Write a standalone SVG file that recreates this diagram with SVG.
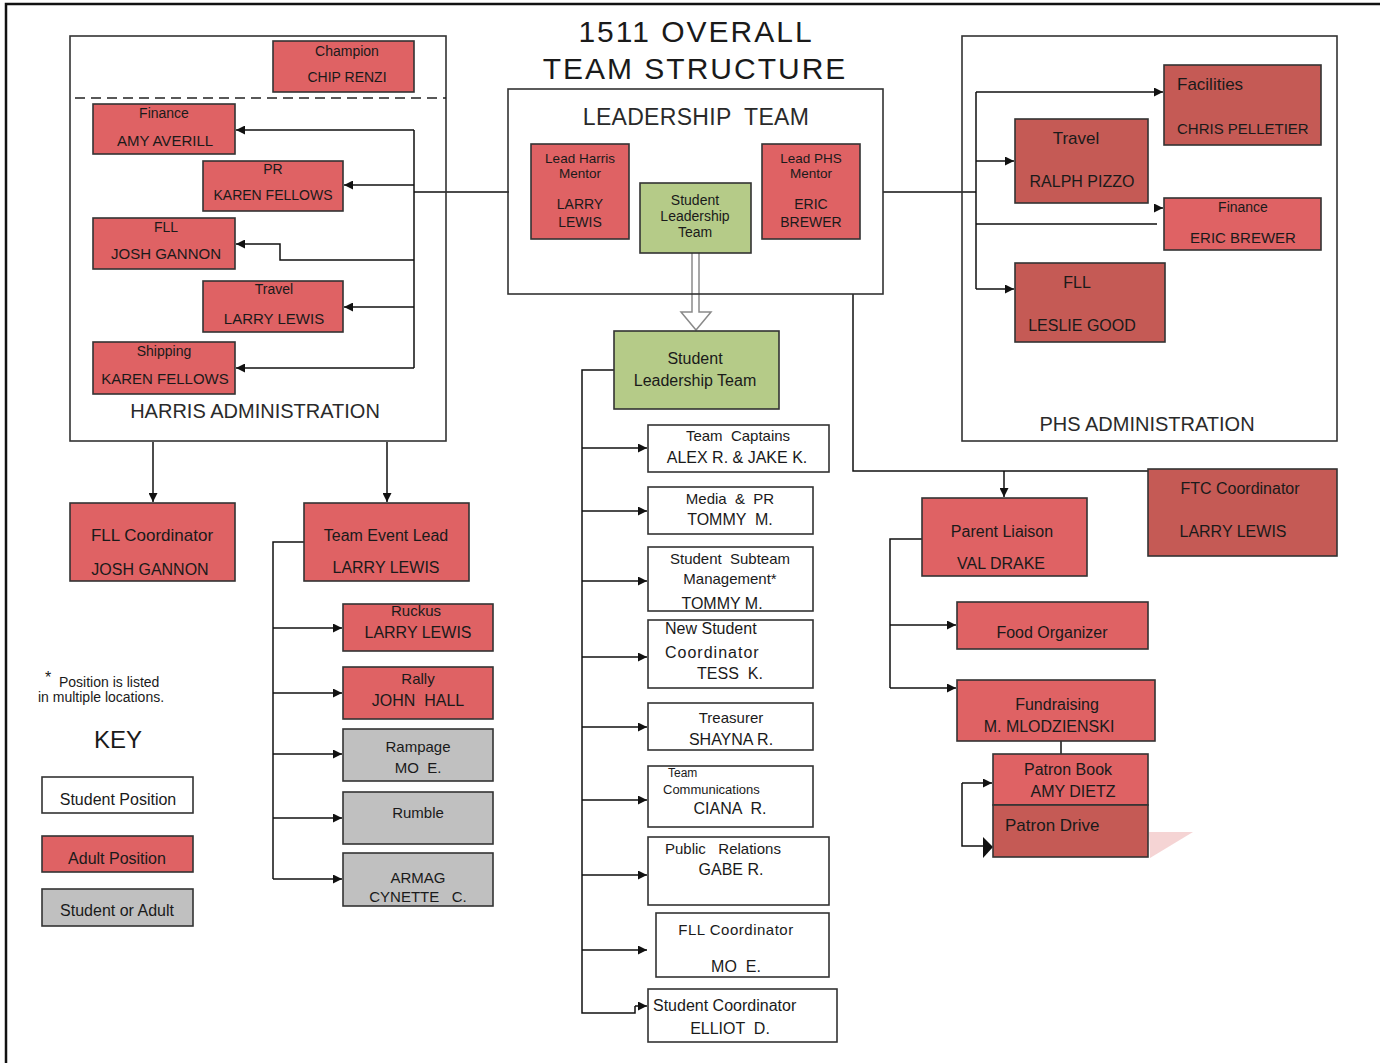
<svg xmlns="http://www.w3.org/2000/svg" width="1380" height="1063" viewBox="0 0 1380 1063">
<defs>
<marker id="ah" viewBox="0 0 10 10" refX="10" refY="5" markerWidth="9" markerHeight="9" markerUnits="userSpaceOnUse" orient="auto">
<path d="M0,0 L10,5 L0,10 z" fill="#111"/>
</marker>
<style>
.box{stroke:#333;stroke-width:1.6}
.ad{fill:#DF6264}
.add{fill:#C55A55}
.st{fill:#fff}
.bo{fill:#C0C0C0}
.gr{fill:#B5CB88}
.frame{fill:none;stroke:#333;stroke-width:1.6}
text{font-family:"Liberation Sans",Arial,sans-serif;fill:#1a1a1a;dominant-baseline:central}
.c{text-anchor:middle}
.s13{font-size:13.5px}
.s14{font-size:14px}
.s15{font-size:15px}
.s16{font-size:16px}
.s17{font-size:17px}
.ln{fill:none;stroke:#111;stroke-width:1.5}
.arr{fill:none;stroke:#111;stroke-width:1.5;marker-end:url(#ah)}
</style>
</defs>
<rect width="1380" height="1063" fill="#fff"/>
<path d="M6,1063 V4 H1380" fill="none" stroke="#111" stroke-width="2.5"/>

<g id="title">
<text class="c" x="696" y="31" style="font-size:30px;letter-spacing:2px">1511 OVERALL</text>
<text class="c" x="695" y="68" style="font-size:30px;letter-spacing:2px">TEAM STRUCTURE</text>
</g>

<g id="connectors">
<path class="ln" d="M414,130 V368 M414,192 H509"/>
<path class="arr" d="M414,130 H236"/>
<path class="arr" d="M414,185 H344"/>
<path class="arr" d="M414,260 H280 V244 H236"/>
<path class="arr" d="M414,307 H344"/>
<path class="arr" d="M414,368 H236"/>
<path class="arr" d="M153,442 V502"/>
<path class="arr" d="M387,442 V502"/>
<path class="ln" d="M304,542 H273 V879"/>
<path class="arr" d="M273,628 H342"/>
<path class="arr" d="M273,693 H342"/>
<path class="arr" d="M273,754 H342"/>
<path class="arr" d="M273,818 H342"/>
<path class="arr" d="M273,879 H342"/>
<path class="ln" d="M883,192 H976 M976,92 V289 M976,224 H1157"/>
<path class="arr" d="M976,92 H1163"/>
<path class="arr" d="M976,161 H1014"/>
<path class="arr" d="M1155,208 H1163"/>
<path class="arr" d="M976,289 H1014"/>
<path class="ln" d="M853,294 V471 H1148"/>
<path class="arr" d="M1004,471 V497"/>
<path class="ln" d="M922,539 H890 V688"/>
<path class="arr" d="M890,625 H956"/>
<path class="arr" d="M890,688 H956"/>
<path class="ln" d="M1061,741 V754"/>
<path class="arr" d="M962,783 H992"/>
<path class="ln" d="M962,783 V846 H984"/>
<polygon points="983,837 993,847 983,858" fill="#111"/>
<path class="ln" d="M614,370 H582 V1013 H635 V1006"/>
<path class="arr" d="M635,1006 H647"/>
<path class="arr" d="M582,448 H647"/>
<path class="arr" d="M582,511 H647"/>
<path class="arr" d="M582,581 H647"/>
<path class="arr" d="M582,657 H647"/>
<path class="arr" d="M582,727 H647"/>
<path class="arr" d="M582,800 H647"/>
<path class="arr" d="M582,875 H647"/>
<path class="arr" d="M582,950 H647"/>
<path d="M692,253 V312 H681 L696,330 L711,312 H699 V253" fill="#fff" stroke="#8a8a8a" stroke-width="1.5"/>
</g>

<g id="harris-admin">
<rect class="frame" x="70" y="36" width="376" height="405"/>
<path d="M75,98 H446" stroke="#222" stroke-width="1.5" stroke-dasharray="10,6"/>
<text class="c" x="255" y="411" style="font-size:20px;fill:#2a2a2a">HARRIS ADMINISTRATION</text>
</g>
<g id="champion"><rect class="box ad" x="273" y="41" width="141" height="51"/><text class="c s14" x="347" y="51">Champion</text><text class="c s14" x="347" y="77">CHIP RENZI</text></g>
<g id="h-finance"><rect class="box ad" x="93" y="104" width="142" height="50"/><text class="c s14" x="164" y="113">Finance</text><text class="c s15" x="165" y="140">AMY AVERILL</text></g>
<g id="h-pr"><rect class="box ad" x="203" y="161" width="140" height="50"/><text class="c s14" x="273" y="169">PR</text><text class="c s14" x="273" y="195">KAREN FELLOWS</text></g>
<g id="h-fll"><rect class="box ad" x="93" y="218" width="142" height="51"/><text class="c s14" x="166" y="227">FLL</text><text class="c s15" x="166" y="253">JOSH GANNON</text></g>
<g id="h-travel"><rect class="box ad" x="203" y="281" width="140" height="51"/><text class="c s14" x="274" y="289">Travel</text><text class="c s15" x="274" y="318">LARRY LEWIS</text></g>
<g id="h-shipping"><rect class="box ad" x="93" y="342" width="142" height="52"/><text class="c s14" x="164" y="351">Shipping</text><text class="c s15" x="165" y="378">KAREN FELLOWS</text></g>

<g id="fll-coordinator"><rect class="box ad" x="70" y="503" width="165" height="78"/><text class="c s17" x="152" y="535">FLL Coordinator</text><text class="c s16" x="150" y="569">JOSH GANNON</text></g>
<g id="team-event-lead"><rect class="box ad" x="304" y="503" width="165" height="78"/><text class="c s16" x="386" y="535">Team Event Lead</text><text class="c s16" x="386" y="567">LARRY LEWIS</text></g>
<g id="ruckus"><rect class="box ad" x="343" y="604" width="150" height="47"/><text class="c s15" x="416" y="610">Ruckus</text><text class="c s16" x="418" y="632">LARRY LEWIS</text></g>
<g id="rally"><rect class="box ad" x="343" y="667" width="150" height="52"/><text class="c s15" x="418" y="678">Rally</text><text class="c s16" x="418" y="700" xml:space="preserve">JOHN  HALL</text></g>
<g id="rampage"><rect class="box bo" x="343" y="729" width="150" height="52"/><text class="c s15" x="418" y="746">Rampage</text><text class="c s15" x="418" y="767" xml:space="preserve">MO  E.</text></g>
<g id="rumble"><rect class="box bo" x="343" y="792" width="150" height="52"/><text class="c s15" x="418" y="812">Rumble</text></g>
<g id="armag"><rect class="box bo" x="343" y="853" width="150" height="53"/><text class="c s15" x="418" y="877">ARMAG</text><text class="c s15" x="418" y="896" xml:space="preserve">CYNETTE   C.</text></g>

<g id="key">
<text x="45" y="677" style="font-size:16px">*</text>
<text x="59" y="682" style="font-size:14px">Position is listed</text>
<text x="38" y="697" style="font-size:14px">in multiple locations.</text>
<text class="c" x="118" y="739" style="font-size:24px">KEY</text>
<rect class="box st" x="42" y="777" width="151" height="36"/><text class="c s16" x="118" y="799">Student Position</text>
<rect class="box ad" x="42" y="836" width="151" height="36"/><text class="c s16" x="117" y="858">Adult Position</text>
<rect class="box bo" x="42" y="889" width="151" height="37"/><text class="c s16" x="117" y="910">Student or Adult</text>
</g>

<g id="leadership-team">
<rect class="frame" x="508" y="89" width="375" height="205"/>
<text class="c" x="696" y="117" style="font-size:23px;fill:#2a2a2a;letter-spacing:0.3px" xml:space="preserve">LEADERSHIP  TEAM</text>
</g>
<g id="lead-harris-mentor"><rect class="box ad" x="531" y="144" width="98" height="95"/><text class="c s13" x="580" y="158">Lead Harris</text><text class="c s13" x="580" y="173">Mentor</text><text class="c s14" x="580" y="204">LARRY</text><text class="c s14" x="580" y="222">LEWIS</text></g>
<g id="slt-small"><rect class="box gr" x="640" y="183" width="111" height="70"/><text class="c s14" x="695" y="200">Student</text><text class="c s14" x="695" y="216">Leadership</text><text class="c s14" x="695" y="232">Team</text></g>
<g id="lead-phs-mentor"><rect class="box ad" x="762" y="144" width="98" height="95"/><text class="c s13" x="811" y="158">Lead PHS</text><text class="c s13" x="811" y="173">Mentor</text><text class="c s14" x="811" y="204">ERIC</text><text class="c s14" x="811" y="222">BREWER</text></g>

<g id="phs-admin">
<rect class="frame" x="962" y="36" width="375" height="405"/>
<text class="c" x="1147" y="424" style="font-size:20px;fill:#2a2a2a">PHS ADMINISTRATION</text>
</g>
<g id="p-facilities"><rect class="box add" x="1164" y="65" width="157" height="80"/><text class="s17" x="1177" y="84">Facilities</text><text class="s15" x="1177" y="128">CHRIS PELLETIER</text></g>
<g id="p-travel"><rect class="box add" x="1015" y="119" width="133" height="84"/><text class="c s17" x="1076" y="138">Travel</text><text class="c s16" x="1082" y="181">RALPH PIZZO</text></g>
<g id="p-finance"><rect class="box ad" x="1164" y="198" width="157" height="52"/><text class="c s14" x="1243" y="207">Finance</text><text class="c s15" x="1243" y="237">ERIC BREWER</text></g>
<g id="p-fll"><rect class="box add" x="1015" y="263" width="150" height="79"/><text class="c s16" x="1077" y="282">FLL</text><text class="c s16" x="1082" y="325">LESLIE GOOD</text></g>

<g id="parent-liaison"><rect class="box ad" x="922" y="498" width="165" height="78"/><text class="c s16" x="1002" y="531">Parent Liaison</text><text class="c s16" x="1001" y="563">VAL DRAKE</text></g>
<g id="ftc-coordinator"><rect class="box add" x="1148" y="469" width="189" height="87"/><text class="c s16" x="1240" y="488">FTC Coordinator</text><text class="c s16" x="1233" y="531">LARRY LEWIS</text></g>
<g id="food-organizer"><rect class="box ad" x="957" y="602" width="191" height="47"/><text class="c s16" x="1052" y="632">Food Organizer</text></g>
<g id="fundraising"><rect class="box ad" x="957" y="680" width="198" height="61"/><text class="c s16" x="1057" y="704">Fundraising</text><text class="c s16" x="1049" y="726">M. MLODZIENSKI</text></g>
<g id="patron-book"><rect class="box ad" x="993" y="754" width="155" height="51"/><text class="c s16" x="1068" y="769">Patron Book</text><text class="c s16" x="1073" y="791">AMY DIETZ</text></g>
<g id="patron-drive"><polygon points="1149,832 1193,832 1150,858" fill="#F2C9C9" opacity="0.8"/><rect class="box add" x="993" y="805" width="155" height="52"/><text class="s17" x="1005" y="825">Patron Drive</text></g>

<g id="slt"><rect class="box gr" x="614" y="331" width="165" height="78"/><text class="c s16" x="695" y="358">Student</text><text class="c s16" x="695" y="380">Leadership Team</text></g>
<g id="team-captains"><rect class="box st" x="648" y="425" width="181" height="47"/><text class="c s15" x="738" y="435" xml:space="preserve">Team  Captains</text><text class="c s16" x="737" y="457">ALEX R. &amp; JAKE K.</text></g>
<g id="media-pr"><rect class="box st" x="648" y="487" width="165" height="47"/><text class="c s15" x="730" y="498" xml:space="preserve">Media  &amp;  PR</text><text class="c s16" x="730" y="519" xml:space="preserve">TOMMY  M.</text></g>
<g id="subteam-mgmt"><rect class="box st" x="648" y="547" width="165" height="64"/><text class="c s15" x="730" y="558" xml:space="preserve">Student  Subteam</text><text class="c s15" x="730" y="578">Management*</text><text class="c s16" x="722" y="603">TOMMY M.</text></g>
<g id="new-student-coord"><rect class="box st" x="648" y="620" width="165" height="68"/><text class="s16" x="665" y="628">New Student</text><text class="s16" x="665" y="652" style="letter-spacing:1px">Coordinator</text><text class="c s16" x="730" y="673" xml:space="preserve">TESS  K.</text></g>
<g id="treasurer"><rect class="box st" x="648" y="703" width="165" height="47"/><text class="c s15" x="731" y="717">Treasurer</text><text class="c s16" x="731" y="739">SHAYNA R.</text></g>
<g id="team-comms"><rect class="box st" x="648" y="766" width="165" height="61"/><text x="668" y="773" style="font-size:12px">Team</text><text x="663" y="789" style="font-size:13px">Communications</text><text class="c s16" x="730" y="808" xml:space="preserve">CIANA  R.</text></g>
<g id="public-relations"><rect class="box st" x="648" y="837" width="181" height="68"/><text class="s15" x="665" y="848" xml:space="preserve">Public   Relations</text><text class="c s16" x="731" y="869">GABE R.</text></g>
<g id="s-fll-coord"><rect class="box st" x="656" y="913" width="173" height="64"/><text class="c s15" x="736" y="929" style="letter-spacing:0.5px">FLL Coordinator</text><text class="c s16" x="736" y="966" xml:space="preserve">MO  E.</text></g>
<g id="student-coord"><rect class="box st" x="648" y="989" width="189" height="53"/><text class="s16" x="653" y="1005">Student Coordinator</text><text class="c s16" x="730" y="1028" xml:space="preserve">ELLIOT  D.</text></g>
</svg>
